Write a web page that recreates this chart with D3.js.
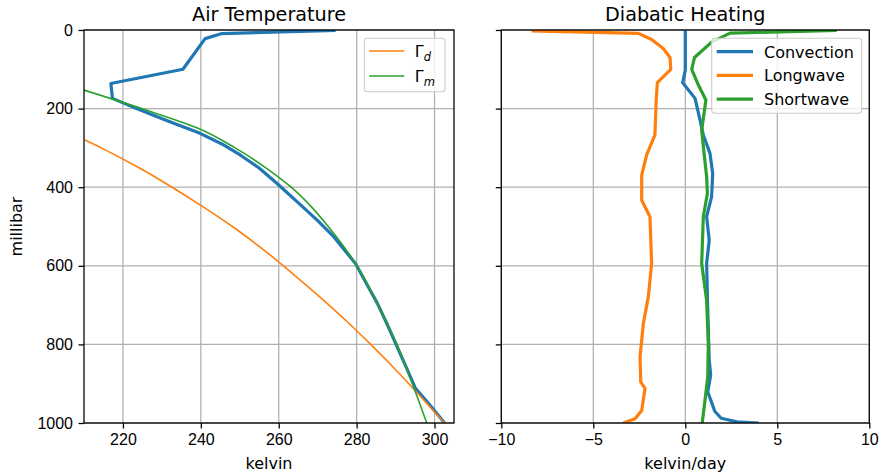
<!DOCTYPE html>
<html>
<head>
<meta charset="utf-8">
<script src="https://cdn.jsdelivr.net/npm/d3@7"></script>
<style>
  body { margin: 0; background: #fff; }
  svg { display: block; font-family: 'DejaVu Sans', sans-serif; }
  .tick text { font-size: 16px; fill: #000; }
  .tick line { stroke: #000; stroke-width: 1.26; }
  .grid line { stroke: #b0b0b0; stroke-width: 1.26; }
  .title { font-size: 19.2px; text-anchor: middle; }
  .axis-text { font-size: 16px; text-anchor: middle; }
</style>
</head>
<body>
<div id="example-graph"><svg width="880" height="475"></svg></div>
<script>
// pressure ticks shared by both panels (millibar)
const pressureTicks = [0, 200, 400, 600, 800, 1000]
const tempTicks = [220, 240, 260, 280, 300]
const heatTicks = [-10, -5, 0, 5, 10]

// Air temperature panel
const airLev = [1, 9, 22, 100, 136, 174, 200, 230, 263, 290, 318, 350, 390, 445, 483, 526, 594, 650, 695, 750, 806, 860, 912, 946, 1000]
const airTemp = [274.6, 245.4, 241.1, 235.4, 216.9, 217.3, 223.5, 231.2, 239.8, 245.4, 250.1, 254.8, 259.5, 265.6, 269.8, 274.1, 279.7, 282.8, 285.3, 287.9, 290.4, 292.8, 295.1, 298.1, 302.6]

const dryLev = [280, 300, 350, 400, 450, 500, 550, 600, 650, 700, 750, 800, 850, 900, 950, 1000]
const dryTemp = [210.2, 214.4, 224.0, 232.6, 240.6, 248.1, 254.9, 261.2, 267.1, 272.9, 278.4, 283.6, 288.6, 293.4, 298.0, 302.6]

const moistLev = [153, 200, 250, 300, 350, 400, 450, 500, 600, 700, 800, 900, 1000]
const moistTemp = [210.0, 224.8, 239.3, 248.8, 256.6, 263.2, 268.4, 272.7, 280.1, 285.5, 290.3, 294.3, 298.0]

// Diabatic heating panel (kelvin/day)
const convLev = [1, 102, 134, 174, 229, 267, 314, 365, 424, 475, 535, 594, 679, 840, 878, 921, 950, 970, 988, 997, 1000]
const convection = [0, 0, -0.14, 0.53, 0.8, 0.98, 1.34, 1.49, 1.43, 1.16, 1.3, 1.16, 1.2, 1.3, 1.38, 1.22, 1.45, 1.6, 1.95, 2.8, 4.0]

const lwLev = [2, 8.5, 24, 47, 70, 100, 134, 187, 267, 318, 369, 433, 475, 594, 679, 747, 832, 896, 912, 968, 989, 1000]
const longwave = [-8.35, -2.55, -1.83, -1.2, -0.83, -0.79, -1.52, -1.59, -1.65, -2.1, -2.37, -2.37, -1.92, -1.83, -2.01, -2.28, -2.46, -2.42, -2.19, -2.37, -2.73, -3.37]

const swLev = [1, 8, 31, 70, 100, 140, 178, 212, 255, 314, 373, 416, 475, 594, 688, 798, 883, 942, 1000]
const shortwave = [8.23, 2.43, 1.43, 0.5, 0.35, 0.71, 1.12, 1.02, 0.89, 1.02, 1.16, 1.2, 0.98, 0.89, 1.16, 1.25, 1.22, 1.07, 0.92]

const colors = { blue: '#1f77b4', orange: '#ff7f0e', green: '#2ca02c' }
const yTop = 30
const yBottom = 423

const svg = d3.select('#example-graph').select('svg')

const y = d3.scaleLinear().domain([0, 1000]).range([yTop, yBottom])

/**
 * Formats a tick with the real minus sign, like matplotlib does.
 *
 * @param {number} d The tick value
 * @returns {string} The label
 */
function fmt (d) {
  return d < 0 ? '\u2212' + Math.abs(d) : String(d)
}

/**
 * Draws one panel: grid, lines, axes, spines and title.
 *
 * @param {object} p The panel settings
 * @returns {*} The g of the panel
 */
function drawPanel (p) {
  const g = svg.append('g')
  const x = p.x
  const [x0, x1] = x.range()

  g.append('clipPath').attr('id', p.id)
    .append('rect')
    .attr('x', x0).attr('y', yTop)
    .attr('width', x1 - x0).attr('height', yBottom - yTop)

  const grid = g.append('g').attr('class', 'grid')
  grid.selectAll('.gx').data(p.xTicks).enter().append('line')
    .attr('x1', d => x(d)).attr('x2', d => x(d))
    .attr('y1', yTop).attr('y2', yBottom)
  grid.selectAll('.gy').data(pressureTicks).enter().append('line')
    .attr('x1', x0).attr('x2', x1)
    .attr('y1', d => y(d)).attr('y2', d => y(d))

  p.series.forEach(s => {
    const line = d3.line()
      .x(d => x(d[0])).y(d => y(d[1]))
      .curve(s.smooth ? d3.curveMonotoneY : d3.curveLinear)
    g.append('path')
      .datum(d3.zip(s.values, s.lev))
      .attr('clip-path', 'url(#' + p.id + ')')
      .attr('fill', 'none')
      .attr('stroke', s.color)
      .attr('stroke-width', s.width)
      .attr('stroke-linejoin', 'round')
      .attr('d', line)
  })

  const xAxis = g.append('g')
    .attr('transform', 'translate(0,' + yBottom + ')')
    .call(d3.axisBottom(x).tickValues(p.xTicks).tickFormat(fmt).tickSize(5.5).tickPadding(4))
  xAxis.select('.domain').remove()
  xAxis.selectAll('.tick text').attr('dy', '0.76em')

  const yAxis = g.append('g')
    .attr('transform', 'translate(' + x0 + ',0)')
    .call(d3.axisLeft(y).tickValues(pressureTicks).tickSize(5.5).tickPadding(5.5)
      .tickFormat(p.yLabels ? fmt : ''))
  yAxis.select('.domain').remove()

  g.append('rect')
    .attr('x', x0).attr('y', yTop)
    .attr('width', x1 - x0).attr('height', yBottom - yTop)
    .attr('fill', 'none').attr('stroke', '#000').attr('stroke-width', 1.26)

  g.append('text')
    .attr('class', 'title')
    .attr('x', (x0 + x1) / 2).attr('y', 21)
    .text(p.title)

  g.append('text')
    .attr('class', 'axis-text')
    .attr('x', (x0 + x1) / 2).attr('y', 469)
    .text(p.xLabel)

  return g
}

/**
 * Appends a matplotlib-like legend box.
 *
 * @param {*} g The panel g
 * @param {object} box Position and size of the frame
 * @param {Array} items The entries
 */
function appendLegend (g, box, items) {
  g.append('rect')
    .attr('x', box.x).attr('y', box.y)
    .attr('width', box.w).attr('height', box.h)
    .attr('rx', 3)
    .attr('fill', 'rgba(255,255,255,0.8)')
    .attr('stroke', '#cccccc').attr('stroke-width', 1.1)

  items.forEach((it, i) => {
    const cy = box.rows[i]
    g.append('line')
      .attr('x1', box.x + 5).attr('x2', box.x + 5 + box.len)
      .attr('y1', cy).attr('y2', cy)
      .attr('stroke', it.color).attr('stroke-width', it.width)
    const t = g.append('text')
      .attr('x', box.x + box.textX).attr('y', cy + 5.8)
      .attr('font-size', '16px')
    if (it.sub) {
      t.append('tspan').text('\u0393')
      t.append('tspan').attr('font-style', 'italic').attr('font-size', '11.5px')
        .attr('dy', 4).text(it.sub)
    } else {
      t.text(it.label)
    }
  })
}

const left = drawPanel({
  id: 'clip-left',
  x: d3.scaleLinear().domain([210, 305]).range([84, 454]),
  xTicks: tempTicks,
  yLabels: true,
  title: 'Air Temperature',
  xLabel: 'kelvin',
  series: [
    { lev: airLev, values: airTemp, color: colors.blue, width: 3.2 },
    { lev: dryLev, values: dryTemp, color: colors.orange, width: 1.6, smooth: true },
    { lev: moistLev, values: moistTemp, color: colors.green, width: 1.6, smooth: true }
  ]
})

svg.append('text')
  .attr('class', 'axis-text')
  .attr('transform', 'translate(22,226.5) rotate(-90)')
  .text('millibar')

appendLegend(left, { x: 364.3, y: 38.3, w: 80.7, h: 53.4, len: 35, textX: 50.5, rows: [51, 76] }, [
  { sub: 'd', color: colors.orange, width: 1.6 },
  { sub: 'm', color: colors.green, width: 1.6 }
])

const right = drawPanel({
  id: 'clip-right',
  x: d3.scaleLinear().domain([-10, 10]).range([501.3, 869.3]),
  xTicks: heatTicks,
  yLabels: false,
  title: 'Diabatic Heating',
  xLabel: 'kelvin/day',
  series: [
    { lev: convLev, values: convection, color: colors.blue, width: 3.2 },
    { lev: lwLev, values: longwave, color: colors.orange, width: 3.2 },
    { lev: swLev, values: shortwave, color: colors.green, width: 3.2 }
  ]
})

appendLegend(right, { x: 711.7, y: 38.3, w: 150, h: 75, len: 36.3, textX: 52.3, rows: [51.7, 75.4, 99.1] }, [
  { label: 'Convection', color: colors.blue, width: 3.2 },
  { label: 'Longwave', color: colors.orange, width: 3.2 },
  { label: 'Shortwave', color: colors.green, width: 3.2 }
])
</script>
</body>
</html>
